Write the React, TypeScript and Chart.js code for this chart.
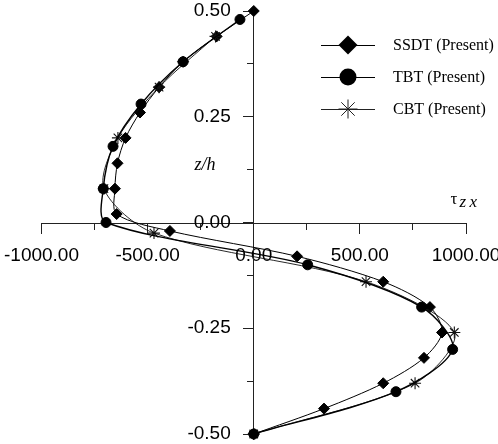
import React, { useEffect, useRef } from 'react';
import { Chart, registerables } from 'chart.js';

Chart.register(...registerables);

// z/h positions and tau_zx values
const ssdtZ = [0.5, 0.44, 0.38, 0.32, 0.26, 0.2, 0.14, 0.08, 0.02, -0.02, -0.08, -0.14, -0.2, -0.26, -0.32, -0.38, -0.44, -0.5];
const ssdtTau = [0, -175, -333, -446, -536, -604, -642, -654, -646, -395, 204, 610, 830, 887, 802, 610, 331, 0];

const tbtZ = [0.48, 0.38, 0.28, 0.18, 0.08, 0.0, -0.1, -0.2, -0.3, -0.4, -0.5];
const tbtTau = [-65, -333, -531, -663, -709, -696, 254, 791, 937, 670, 0];

const cbtZ = [0.44, 0.32, 0.2, 0.08, -0.025, -0.14, -0.26, -0.38, -0.5];
const cbtTau = [-180, -446, -640, -706, -470, 529, 945, 760, 0];

const seriesLabels = ['SSDT (Present)', 'TBT (Present)', 'CBT (Present)'];

const xMin = -1000;
const xMax = 1000;
const xMajorStep = 500;
const xMinorStep = 250;
const yMin = -0.5;
const yMax = 0.5;
const yMajorStep = 0.25;
const yMinorStep = 0.125;

const pts = (xs: number[], ys: number[]) => xs.map((x, i) => ({ x, y: ys[i] }));

const zeroPad = (scale: any) => {
  scale.paddingLeft = 0;
  scale.paddingRight = 0;
  scale.paddingTop = 0;
  scale.paddingBottom = 0;
};

const overlayPlugin = {
  id: 'overlay',
  afterDraw(chart: any) {
    const ctx: CanvasRenderingContext2D = chart.ctx;
    ctx.save();
    // Axis titles
    ctx.fillStyle = '#000';
    ctx.textBaseline = 'alphabetic';
    ctx.textAlign = 'center';
    ctx.font = 'italic 18px "Liberation Serif"';
    ctx.fillText('z/h', 205, 170);
    ctx.textAlign = 'left';
    ctx.font = '17px "Liberation Serif"';
    ctx.fillText('τ', 450.5, 204);
    ctx.font = 'italic 17px "Liberation Serif"';
    ctx.fillText('z', 459.5, 206.5);
    ctx.fillText('x', 469.5, 206.5);

    // Legend
    const rows = [45, 77, 109];
    const mx = 348;
    rows.forEach((ry, i) => {
      ctx.strokeStyle = i === 2 ? '#222' : '#000';
      ctx.lineWidth = 1;
      ctx.beginPath();
      ctx.moveTo(321, ry + 0.5);
      ctx.lineTo(375, ry + 0.5);
      ctx.stroke();
      ctx.fillStyle = '#000';
      if (i === 0) {
        const r = 9.5;
        ctx.beginPath();
        ctx.moveTo(mx - r, ry);
        ctx.lineTo(mx, ry - r);
        ctx.lineTo(mx + r, ry);
        ctx.lineTo(mx, ry + r);
        ctx.closePath();
        ctx.fill();
      } else if (i === 1) {
        ctx.beginPath();
        ctx.arc(mx, ry, 8.5, 0, Math.PI * 2);
        ctx.fill();
      } else {
        const r = 9.5;
        ctx.beginPath();
        for (let k = 0; k < 4; k++) {
          const a = (k * Math.PI) / 4;
          ctx.moveTo(mx - r * Math.cos(a), ry - r * Math.sin(a));
          ctx.lineTo(mx + r * Math.cos(a), ry + r * Math.sin(a));
        }
        ctx.stroke();
      }
      ctx.fillStyle = '#000';
      ctx.textAlign = 'left';
      ctx.textBaseline = 'middle';
      ctx.font = '16px "Liberation Serif"';
      ctx.fillText(seriesLabels[i], 393, ry + 1);
    });
    ctx.restore();
  },
};

export default function App() {
  const canvasRef = useRef<HTMLCanvasElement | null>(null);

  useEffect(() => {
    if (!canvasRef.current) return;
    const tickFont = { family: '"Liberation Sans", Arial, sans-serif', size: 19 };
    const chart = new Chart(canvasRef.current, {
      type: 'scatter',
      data: {
        datasets: [
          {
            label: seriesLabels[0],
            data: pts(ssdtTau, ssdtZ),
            showLine: true,
            borderColor: '#000',
            borderWidth: 1,
            backgroundColor: '#000',
            pointStyle: 'rectRot',
            pointRadius: 5.5,
            pointBorderWidth: 1,
            pointBackgroundColor: '#000',
            pointBorderColor: '#000',
            tension: 0.3,
            clip: false,
            order: 3,
          },
          {
            label: seriesLabels[1],
            data: pts(tbtTau, tbtZ),
            showLine: true,
            borderColor: '#000',
            borderWidth: 1.4,
            backgroundColor: '#000',
            pointStyle: 'circle',
            pointRadius: 5,
            pointBorderWidth: 1,
            pointBackgroundColor: '#000',
            pointBorderColor: '#000',
            tension: 0.3,
            clip: false,
            order: 1,
          },
          {
            label: seriesLabels[2],
            data: pts(cbtTau, cbtZ),
            showLine: true,
            borderColor: '#111',
            borderWidth: 0.9,
            backgroundColor: '#111',
            pointStyle: 'star',
            pointRadius: 6,
            pointBorderWidth: 1.1,
            pointBackgroundColor: '#111',
            pointBorderColor: '#111',
            tension: 0.3,
            clip: false,
            order: 2,
          },
        ],
      },
      options: {
        animation: false,
        responsive: false,
        events: [],
        layout: { padding: { left: 41.5, right: 32, top: 11, bottom: 10 } },
        plugins: { legend: { display: false }, tooltip: { enabled: false } },
        scales: {
          x: {
            type: 'linear',
            position: 'center',
            min: xMin,
            max: xMax,
            afterFit: zeroPad,
            ticks: {
              stepSize: xMajorStep,
              autoSkip: false,
              maxRotation: 0,
              padding: 12,
              color: '#000',
              font: tickFont,
              callback: (v: any) => Number(v).toFixed(2),
            },
            grid: { drawOnChartArea: false, drawTicks: true, tickLength: 10, tickColor: '#222', tickWidth: 1 },
            border: { display: true, color: '#222', width: 1 },
          },
          xMinor: {
            type: 'linear',
            axis: 'x',
            position: 'center',
            min: xMin,
            max: xMax,
            afterFit: zeroPad,
            ticks: { stepSize: xMinorStep, display: false },
            grid: { drawOnChartArea: false, drawTicks: true, tickLength: 7, tickColor: '#222', tickWidth: 1 },
            border: { display: false },
          },
          y: {
            type: 'linear',
            position: 'center',
            min: yMin,
            max: yMax,
            afterFit: zeroPad,
            ticks: {
              stepSize: yMajorStep,
              autoSkip: false,
              padding: 13,
              color: '#000',
              font: tickFont,
              callback: (v: any) => Number(v).toFixed(2),
            },
            grid: { drawOnChartArea: false, drawTicks: true, tickLength: 10, tickColor: '#222', tickWidth: 1 },
            border: { display: true, color: '#222', width: 1 },
          },
          yMinor: {
            type: 'linear',
            axis: 'y',
            position: 'center',
            min: yMin,
            max: yMax,
            afterFit: zeroPad,
            ticks: { stepSize: yMinorStep, display: false },
            grid: { drawOnChartArea: false, drawTicks: true, tickLength: 7, tickColor: '#222', tickWidth: 1 },
            border: { display: false },
          },
        },
      } as any,
      plugins: [overlayPlugin],
    });
    return () => chart.destroy();
  }, []);

  return (
    <div style={{ position: 'fixed', left: 0, top: 0, width: 498, height: 444, background: '#fff' }}>
      <canvas ref={canvasRef} width={498} height={444} style={{ display: 'block', width: 498, height: 444 }} />
    </div>
  );
}
